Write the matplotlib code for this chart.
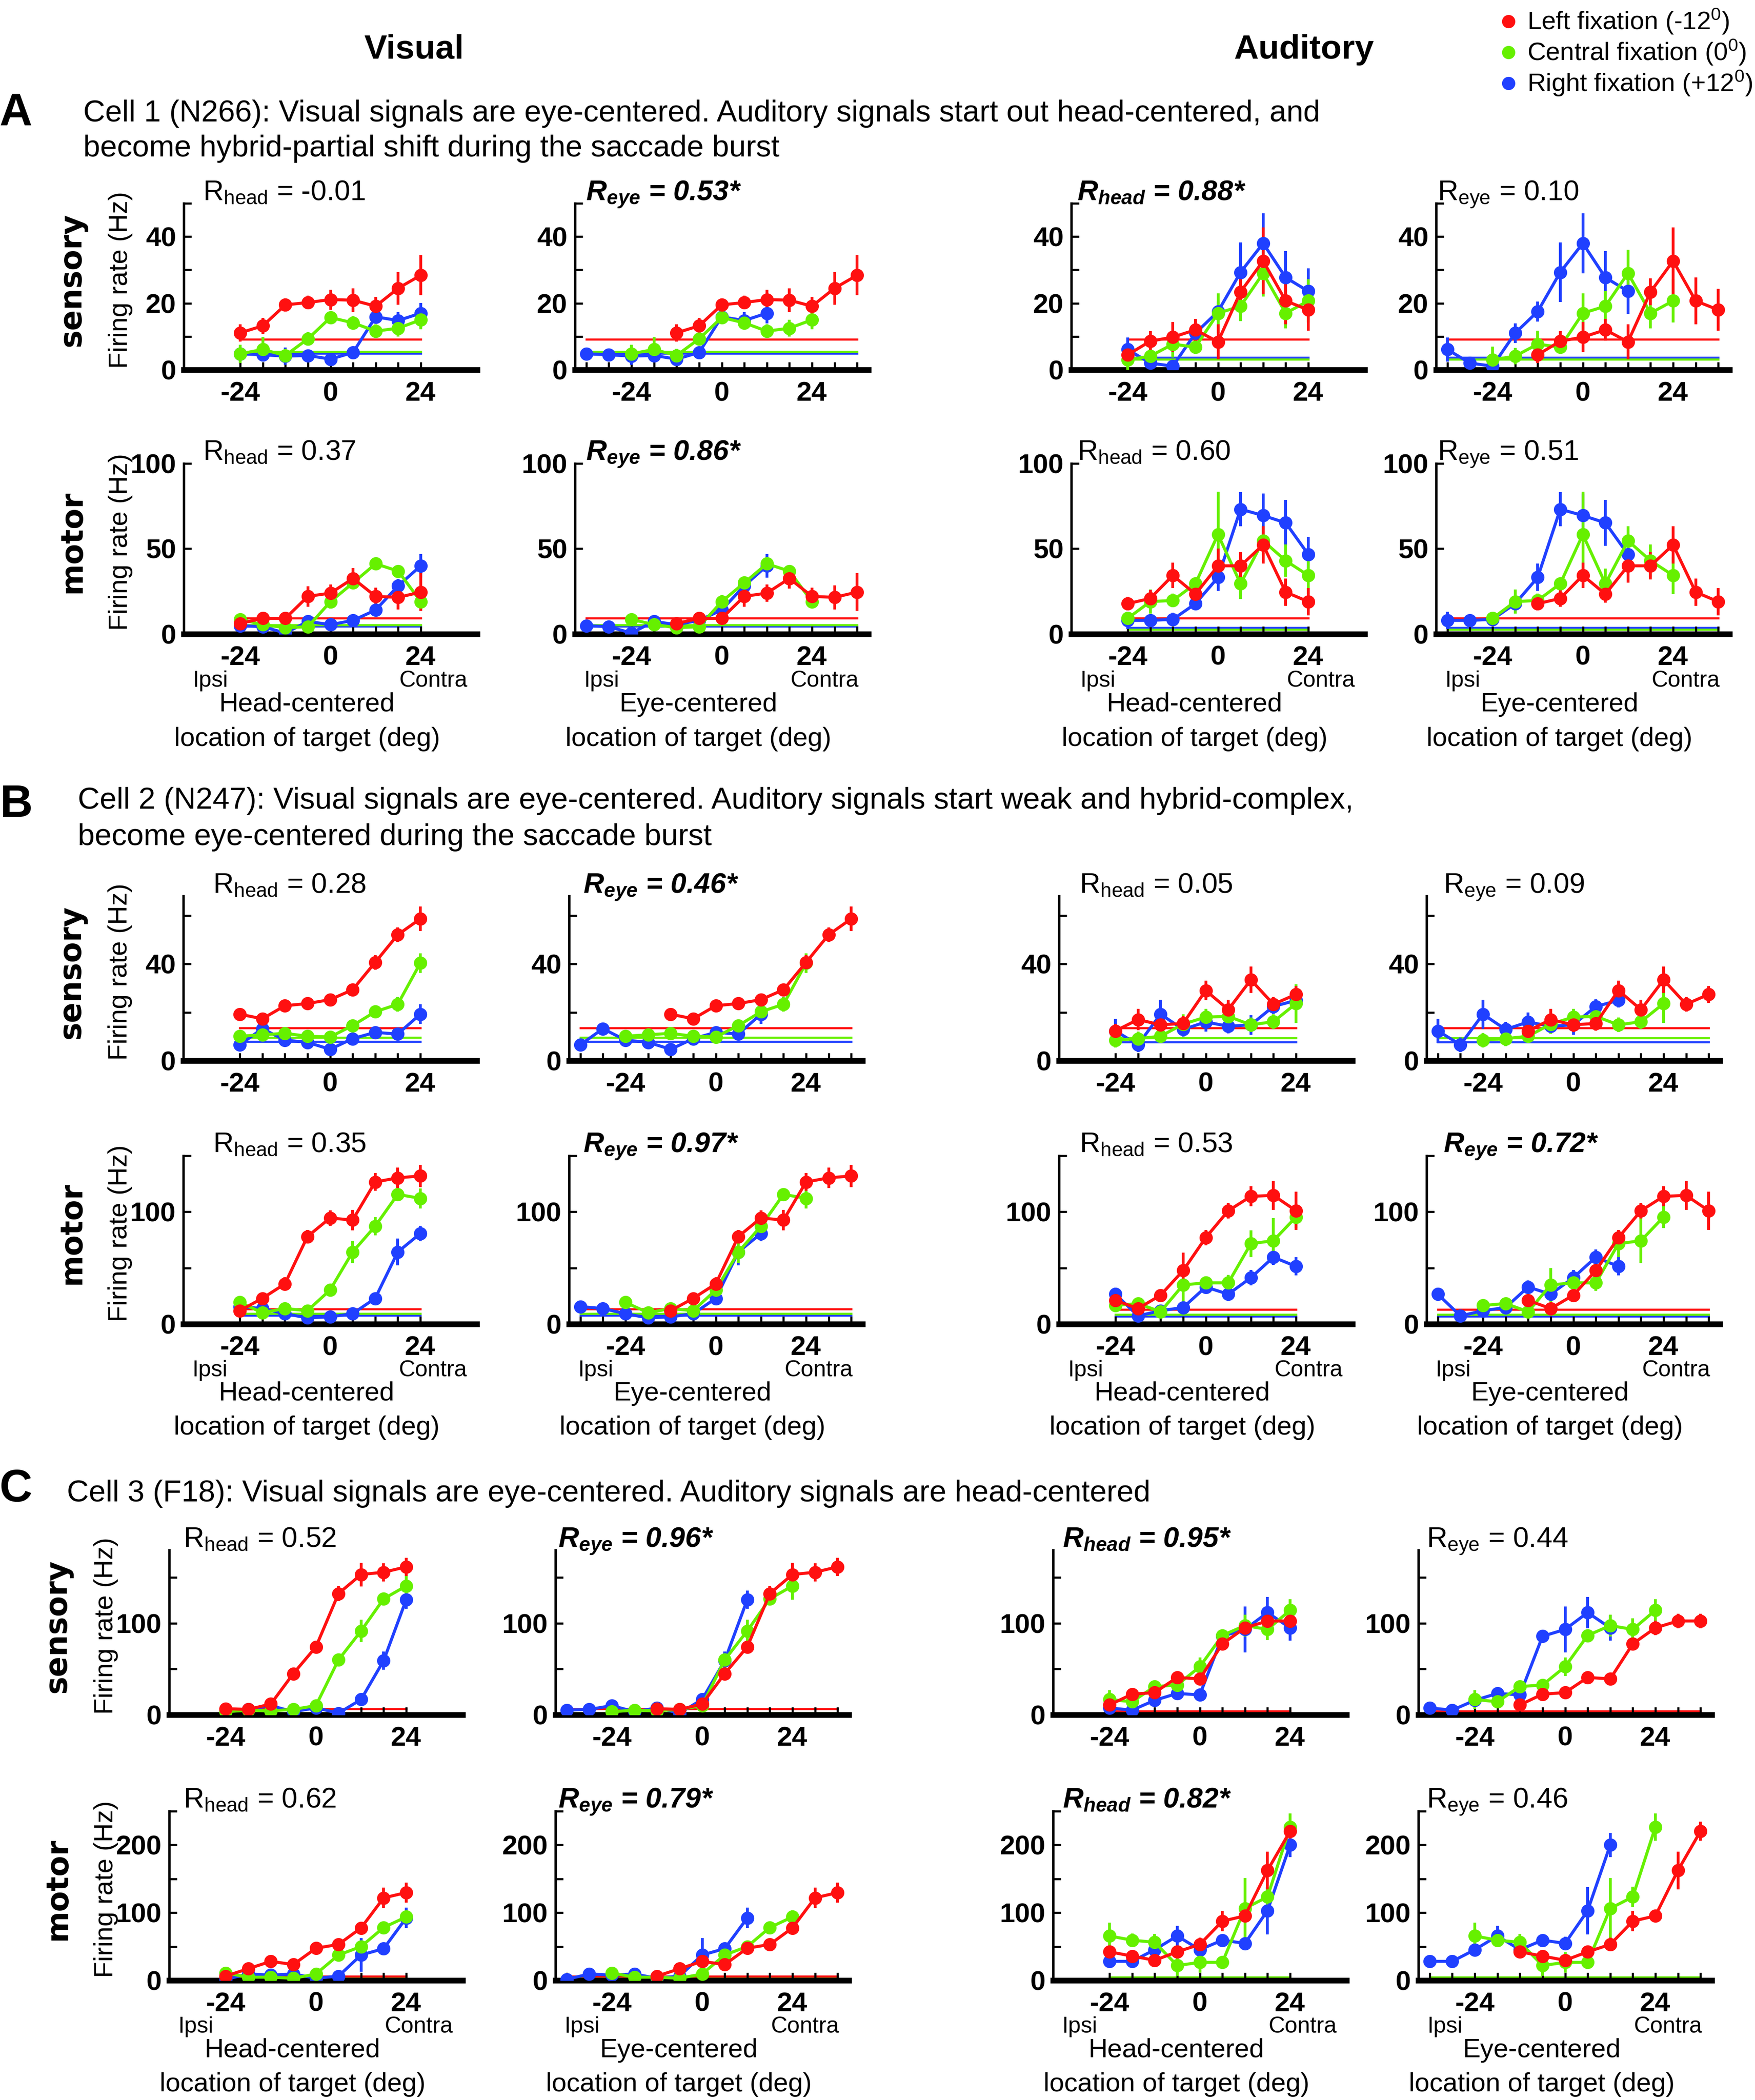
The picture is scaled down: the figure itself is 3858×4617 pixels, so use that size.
import numpy as np
import matplotlib
matplotlib.use("Agg")
import matplotlib.pyplot as plt
from matplotlib.lines import Line2D

plt.rcParams['font.family'] = ['Liberation Sans', 'DejaVu Sans']
plt.rcParams['mathtext.fontset'] = 'custom'
plt.rcParams['mathtext.rm'] = 'Liberation Sans'
plt.rcParams['mathtext.it'] = 'Liberation Sans:italic'
plt.rcParams['mathtext.bf'] = 'Liberation Sans:bold'
try:
    plt.rcParams['mathtext.bfit'] = 'Liberation Sans:italic:bold'
    SIG_CMD = r'\mathbfit'
except KeyError:
    SIG_CMD = r'\mathbf'

# ---- data (head-centred target positions, one row per fixation: left, central, right)
X_HEAD = [-24, -18, -12, -6, 0, 6, 12, 18, 24]
FIXATIONS = [-12, 0, 12]
FIX_LABELS = ['Left fixation (-12$^0$)', 'Central fixation (0$^0$)', 'Right fixation (+12$^0$)']
COLORS = ['#ff1010', '#66f000', '#2040ff']

A_VIS_SENS = [[11.1, 13.2, 19.5, 20.2, 21.1, 20.9, 19.1, 24.5, 28.4],
              [4.8, 6.1, 4.3, 9.3, 15.7, 14.1, 11.6, 12.5, 15.0],
              [4.8, 4.5, 4.1, 4.3, 3.2, 5.2, 15.9, 14.8, 17.0]]
A_VIS_SENS_ERR = [[2.6, 2.4, 2.0, 2.0, 3.0, 3.6, 2.7, 4.9, 6.0],
                  [2.7, 3.7, 2.0, 2.0, 1.8, 2.0, 2.0, 2.5, 2.8],
                  [1.5, 1.5, 2.6, 1.5, 1.5, 1.5, 2.0, 2.5, 3.1]]
A_VIS_SENS_BASE = [9.1, 5.5, 4.9]

A_AUD_SENS = [[4.5, 8.6, 9.8, 12.0, 8.4, 23.4, 32.7, 20.7, 18.0],
              [3.0, 4.1, 7.7, 6.8, 17.0, 19.1, 29.0, 17.0, 20.7],
              [6.1, 2.0, 1.1, 11.0, 17.5, 29.3, 38.0, 27.7, 23.6]]
A_AUD_SENS_ERR = [[2.5, 3.0, 4.5, 3.3, 5.2, 4.0, 10.0, 7.0, 6.3],
                  [4.0, 2.5, 4.0, 2.0, 6.0, 4.5, 7.0, 4.5, 6.5],
                  [3.6, 1.5, 1.5, 3.0, 3.0, 9.0, 9.0, 8.0, 6.8]]
A_AUD_SENS_BASE = [9.1, 3.1, 3.7]

A_VIS_MOT = [[6.2, 9.2, 9.2, 22.1, 24.0, 32.6, 22.1, 21.5, 24.6],
             [8.6, 5.5, 3.7, 4.3, 19.0, 30.0, 41.2, 36.9, 19.0],
             [4.9, 4.3, 0.6, 7.4, 5.5, 8.0, 14.1, 28.3, 40.0]]
A_VIS_MOT_ERR = [[2.0, 2.5, 2.0, 6.0, 5.0, 6.0, 5.0, 7.0, 11.0],
                 [2.0, 2.0, 2.0, 2.0, 4.0, 3.0, 3.5, 3.0, 3.5],
                 [2.0, 2.0, 2.0, 2.0, 2.0, 2.0, 3.5, 4.0, 7.0]]
A_VIS_MOT_BASE = [9.2, 5.2, 4.6]

A_AUD_MOT = [[17.8, 20.9, 34.4, 23.4, 40.0, 40.0, 52.3, 24.6, 19.0],
             [9.2, 19.0, 19.7, 29.5, 58.4, 29.5, 54.7, 43.0, 34.4],
             [8.0, 8.0, 8.6, 17.8, 33.2, 73.2, 69.5, 65.2, 46.7]]
A_AUD_MOT_ERR = [[4.0, 5.0, 7.5, 5.0, 10.0, 8.0, 11.0, 8.0, 8.0],
                 [3.0, 7.0, 4.0, 3.0, 25.0, 9.0, 8.6, 9.5, 11.0],
                 [5.0, 3.0, 4.0, 3.5, 8.0, 10.0, 13.0, 13.5, 10.0]]
A_AUD_MOT_BASE = [9.2, 2.7, 3.7]

B_VIS_SENS = [[19.2, 17.3, 22.7, 23.6, 25.2, 29.3, 40.6, 52.0, 58.6],
              [10.1, 10.7, 11.3, 10.1, 9.8, 14.5, 20.2, 23.3, 40.3],
              [6.6, 13.2, 8.5, 7.6, 4.7, 9.1, 11.7, 11.0, 19.2]]
B_VIS_SENS_ERR = [[2.0, 2.5, 2.0, 1.5, 2.0, 2.0, 3.0, 3.0, 5.0],
                  [2.0, 2.0, 2.0, 2.0, 2.0, 2.0, 2.0, 3.0, 4.0],
                  [2.5, 2.0, 2.0, 2.0, 2.0, 2.0, 2.0, 2.0, 4.0]]
B_VIS_SENS_BASE = [13.5, 9.6, 7.9]

B_AUD_SENS = [[12.3, 17.0, 14.8, 15.4, 29.0, 21.1, 33.4, 23.3, 27.4],
              [8.5, 9.1, 10.1, 15.1, 18.0, 18.3, 14.8, 16.1, 23.6],
              [12.3, 6.6, 19.2, 12.9, 16.0, 14.2, 14.8, 22.4, 24.9]]
B_AUD_SENS_ERR = [[3.0, 4.5, 3.0, 3.0, 4.0, 4.0, 5.5, 3.0, 3.5],
                  [3.0, 3.0, 2.5, 4.0, 3.5, 3.0, 3.0, 3.0, 8.0],
                  [5.0, 3.0, 6.0, 3.0, 4.0, 3.0, 4.0, 3.0, 3.0]]
B_AUD_SENS_BASE = [13.5, 9.4, 7.7]

B_VIS_MOT = [[11.9, 22.9, 35.8, 78.0, 94.5, 92.7, 126.6, 130.3, 132.0],
             [19.3, 10.1, 13.8, 11.9, 30.3, 64.2, 87.2, 115.6, 112.0],
             [15.6, 13.8, 9.2, 5.5, 6.4, 9.2, 22.9, 64.2, 80.7]]
B_VIS_MOT_ERR = [[4, 5, 6, 6, 7, 9, 8, 9, 10],
                 [5, 3, 3, 3, 5, 10, 8, 5, 9],
                 [4, 3, 3, 3, 3, 3, 5, 12, 7]]
B_VIS_MOT_BASE = [13.2, 9.5, 7.9]

B_AUD_MOT = [[21.1, 13.8, 25.7, 47.7, 77.0, 101.0, 113.8, 114.7, 101.0],
             [16.5, 18.3, 11.0, 34.9, 36.7, 36.7, 71.6, 74.3, 95.4],
             [26.6, 7.3, 11.9, 14.7, 33.0, 26.6, 41.3, 59.6, 51.4]]
B_AUD_MOT_ERR = [[5, 4, 5, 16, 7, 7, 9, 13, 17],
                 [5, 5, 4, 15, 6, 7, 12, 20, 10],
                 [6, 4, 4, 5, 6, 6, 7, 7, 8]]
B_AUD_MOT_BASE = [12.8, 8.6, 7.0]

C_VIS_SENS = [[6.7, 5.8, 11.7, 45.0, 74.2, 132.5, 153.3, 155.8, 161.7],
              [3.3, 5.0, 4.2, 5.8, 10.0, 60.0, 91.7, 126.7, 140.8],
              [5.0, 5.8, 10.0, 3.3, 7.5, 1.7, 16.7, 59.2, 125.8]]
C_VIS_SENS_ERR = [[3, 3, 3, 6, 6, 8, 13, 10, 10],
                  [3, 3, 3, 3, 4, 6, 12, 6, 15],
                  [5, 4, 6, 5, 5, 5, 6, 10, 10]]
C_VIS_SENS_BASE = [6.3, 2.2, 0.8]

C_AUD_SENS = [[10.8, 22.5, 24.2, 40.8, 39.2, 77.5, 95.0, 102.5, 102.5],
              [16.7, 14.2, 30.8, 32.5, 52.5, 86.7, 97.5, 93.3, 114.2],
              [7.5, 5.0, 15.8, 23.3, 21.7, 85.8, 93.3, 111.7, 95.0]]
C_AUD_SENS_ERR = [[4, 4, 4, 6, 6, 6, 8, 8, 8],
                  [10, 5, 6, 5, 10, 5, 12, 12, 12],
                  [5, 5, 5, 5, 6, 6, 25, 17, 14]]
C_AUD_SENS_BASE = [4.2, 2.5, 0.3]

C_VIS_MOT = [[6.3, 17.2, 28.1, 23.4, 47.5, 53.1, 77.5, 121.9, 129.7],
             [10.9, 4.7, 4.7, 3.1, 9.4, 37.5, 50.0, 78.1, 93.8],
             [1.6, 9.4, 7.8, 9.4, 3.1, 6.3, 37.5, 46.9, 92.2]]
C_VIS_MOT_ERR = [[3, 4, 8, 5, 5, 6, 8, 15, 15],
                 [4, 3, 3, 3, 4, 8, 8, 6, 10],
                 [4, 6, 3, 3, 3, 3, 25, 8, 15]]
C_VIS_MOT_BASE = [6.3, 3.1, 1.6]

C_AUD_MOT = [[42.2, 35.9, 29.7, 42.2, 53.1, 87.5, 95.3, 162.5, 220.3],
             [65.6, 59.4, 56.3, 21.9, 26.6, 26.6, 106.3, 123.4, 226.6],
             [28.1, 28.1, 45.3, 65.6, 45.3, 59.4, 54.7, 103.1, 200.0]]
C_AUD_MOT_ERR = [[8, 8, 8, 8, 10, 15, 8, 28, 14],
                 [20, 10, 12, 15, 15, 10, 45, 15, 20],
                 [8, 8, 10, 15, 10, 8, 10, 35, 18]]
C_AUD_MOT_BASE = [2.0, 4.7, 1.6]

# correlation values: cell -> [sensory, motor] -> [vis head, vis eye, aud head, aud eye]
R_VALUES = [[['-0.01', '0.53*', '0.88*', '0.10'], ['0.37', '0.86*', '0.60', '0.51']],
            [['0.28', '0.46*', '0.05', '0.09'], ['0.35', '0.97*', '0.53', '0.72*']],
            [['0.52', '0.96*', '0.95*', '0.44'], ['0.62', '0.79*', '0.82*', '0.46']]]

CELL_LETTERS = ['A', 'B', 'C']
CELL_TEXT = [['Cell 1 (N266): Visual signals are eye-centered. Auditory signals start out head-centered, and',
              'become hybrid-partial shift during the saccade burst'],
             ['Cell 2 (N247): Visual signals are eye-centered. Auditory signals start weak and hybrid-complex,',
              'become eye-centered during the saccade burst'],
             ['Cell 3 (F18): Visual signals are eye-centered. Auditory signals are head-centered']]

Y_TOP = [[50, 100], [68, 150], [180, 250]]
Y_STEP = [[10, 50], [20, 50], [50, 50]]
Y_LABELED = [[(0, 20, 40), (0, 50, 100)], [(0, 40), (0, 100)], [(0, 100), (0, 100, 200)]]

BLOCKS = [
    [[(A_VIS_SENS, A_VIS_SENS_ERR, A_VIS_SENS_BASE), (A_AUD_SENS, A_AUD_SENS_ERR, A_AUD_SENS_BASE)],
     [(A_VIS_MOT, A_VIS_MOT_ERR, A_VIS_MOT_BASE), (A_AUD_MOT, A_AUD_MOT_ERR, A_AUD_MOT_BASE)]],
    [[(B_VIS_SENS, B_VIS_SENS_ERR, B_VIS_SENS_BASE), (B_AUD_SENS, B_AUD_SENS_ERR, B_AUD_SENS_BASE)],
     [(B_VIS_MOT, B_VIS_MOT_ERR, B_VIS_MOT_BASE), (B_AUD_MOT, B_AUD_MOT_ERR, B_AUD_MOT_BASE)]],
    [[(C_VIS_SENS, C_VIS_SENS_ERR, C_VIS_SENS_BASE), (C_AUD_SENS, C_AUD_SENS_ERR, C_AUD_SENS_BASE)],
     [(C_VIS_MOT, C_VIS_MOT_ERR, C_VIS_MOT_BASE), (C_AUD_MOT, C_AUD_MOT_ERR, C_AUD_MOT_BASE)]],
]

# ---- layout (pixels of the 3858 x 4617 canvas)
W, H = 3858, 4617
DPI = 300
PANEL_W = 645
CELL_LEFTS = [[404, 1264, 2355, 3157], [403, 1251, 2328, 3136], [372, 1221, 2315, 3118]]
CELL_ROWS = [[(447, 813), (1019, 1394)], [(1970, 2332), (2541, 2911)], [(3408, 3770), (3982, 4354)]]
R_X = [[0.065, 0.037, 0.02, 0.005], [0.10, 0.048, 0.07, 0.057], [0.048, 0.01, 0.033, 0.028]]
LETTER_Y = [250, 1770, 3275]
TEXT_Y = [[250, 327], [1761, 1841], [3284]]
TEXT_X = [183, 171, 147]


def fx(x):
    return x / W


def fy(y):
    return 1 - y / H


def draw_panel(ax, means, errs, bases, eye, ytop, ystep, ylab):
    lo, hi = (-36, 36) if eye else (-24, 24)
    for k in (2, 1, 0):
        ax.plot([lo, hi], [bases[k], bases[k]], color=COLORS[k], lw=1.1, zorder=1)
    for k in (2, 1, 0):
        shift = -FIXATIONS[k] if eye else 0
        x = np.array(X_HEAD) + shift
        ax.errorbar(x, means[k], yerr=errs[k], fmt='-o', color=COLORS[k], ms=6,
                    lw=1.6, elinewidth=1.5, capsize=0, zorder=3)
    ax.set_xlim(-39, 39)
    ax.set_ylim(0, ytop)
    xt = np.arange(lo, hi + 1, 6)
    ax.set_xticks(xt)
    ax.set_xticklabels([str(t) if t in (-24, 0, 24) else '' for t in xt])
    yt = np.arange(0, ytop + 0.1, ystep)
    ax.set_yticks(yt)
    ax.set_yticklabels([str(int(t)) if int(t) in ylab else '' for t in yt])
    ax.spines[['top', 'right']].set_visible(False)
    ax.spines['bottom'].set_linewidth(3.0)
    ax.spines['left'].set_linewidth(1.3)
    ax.tick_params(direction='in', length=4, width=1.1, labelsize=14.5, pad=4)
    ax.tick_params(axis='x', pad=6)
    for lbl in ax.get_xticklabels() + ax.get_yticklabels():
        lbl.set_fontweight('bold')


fig = plt.figure(figsize=(W / DPI, H / DPI), dpi=DPI)

fig.text(fx(910), fy(109), 'Visual', fontsize=18, fontweight='bold', ha='center', va='center')
fig.text(fx(2866), fy(109), 'Auditory', fontsize=18, fontweight='bold', ha='center', va='center')

for k, (yy, lab) in enumerate(zip([47, 115, 183], FIX_LABELS)):
    fig.add_artist(Line2D([fx(3316)], [fy(yy)], marker='o', ms=6, color=COLORS[k],
                          ls='', transform=fig.transFigure))
    fig.text(fx(3357), fy(yy), lab, fontsize=13.5, ha='left', va='center')

for c in range(3):
    fig.text(fx(35), fy(LETTER_Y[c]), CELL_LETTERS[c], fontsize=24, fontweight='bold',
             ha='center', va='center')
    for line, yy in zip(CELL_TEXT[c], TEXT_Y[c]):
        fig.text(fx(TEXT_X[c]), fy(yy), line, fontsize=16, ha='left', va='center')

    for r in range(2):
        top, bottom = CELL_ROWS[c][r]
        for col in range(4):
            left = CELL_LEFTS[c][col]
            ax = fig.add_axes([fx(left), fy(bottom), PANEL_W / W, (bottom - top) / H])
            means, errs, bases = BLOCKS[c][r][col // 2]
            eye = col % 2 == 1
            draw_panel(ax, means, errs, bases, eye, Y_TOP[c][r], Y_STEP[c][r], Y_LABELED[c][r])

            val = R_VALUES[c][r][col]
            sub = 'eye' if eye else 'head'
            if val.endswith('*'):
                txt = 'R$_{' + SIG_CMD + '{' + sub + '}}$ = ' + val
                ax.text(R_X[c][col], 1.02, txt, transform=ax.transAxes, fontsize=15,
                        fontweight='bold', style='italic', ha='left', va='baseline')
            else:
                txt = 'R$_{\\mathrm{' + sub + '}}$ = ' + val
                ax.text(R_X[c][col], 1.02, txt, transform=ax.transAxes, fontsize=15,
                        ha='left', va='baseline')

            if col == 0:
                ax.text(-0.38, 0.54, 'sensory' if r == 0 else 'motor', transform=ax.transAxes,
                        rotation=90, fontsize=16, fontweight='bold', family='DejaVu Sans',
                        ha='center', va='center')
                ax.text(-0.215, 0.54, 'Firing rate (Hz)', transform=ax.transAxes,
                        rotation=90, fontsize=14, ha='center', va='center')
            if r == 1:
                ax.text(0.09, -0.275, 'Ipsi', transform=ax.transAxes, fontsize=12,
                        ha='center', va='center')
                ax.text(0.85, -0.275, 'Contra', transform=ax.transAxes, fontsize=12,
                        ha='center', va='center')
                ax.text(0.42, -0.413, 'Eye-centered' if eye else 'Head-centered',
                        transform=ax.transAxes, fontsize=14, ha='center', va='center')
                ax.text(0.42, -0.616, 'location of target (deg)', transform=ax.transAxes,
                        fontsize=14, ha='center', va='center')

fig.savefig('out.png', dpi=DPI)
